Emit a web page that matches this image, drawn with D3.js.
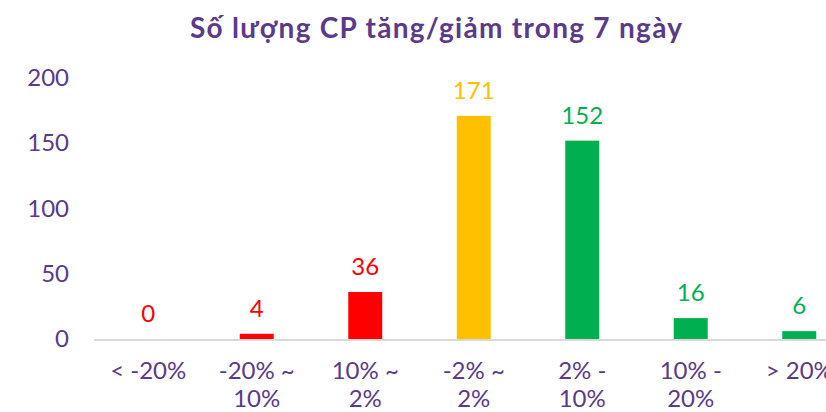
<!DOCTYPE html>
<html>
<head>
<meta charset="utf-8">
<script src="https://cdn.jsdelivr.net/npm/d3@7"></script>
<style>
  body { margin: 0; background: #fff; }
  text { font-family: Lato, 'Open Sans', sans-serif; }
</style>
</head>
<body>
<div id="chart"></div>
<script>
const title = 'Số lượng CP tăng/giảm trong 7 ngày'
const categories = ['< -20%', '-20% ~ 10%', '10% ~ 2%', '-2% ~ 2%', '2% - 10%', '10% - 20%', '> 20%']
const values = [0, 4, 36, 171, 152, 16, 6]
const barColors = ['#ff0000', '#ff0000', '#ff0000', '#ffc000', '#00b050', '#00b050', '#00b050']
const yTicks = [0, 50, 100, 150, 200]

const width = 826
const height = 412
const purple = '#5a3a8a'
const fontSize = '24px'

const svg = d3.select('#chart').append('svg')
  .attr('width', width)
  .attr('height', height)

const x = d3.scaleBand()
  .domain(categories)
  .range([94, 853.5])
  .paddingInner(0.687)
  .paddingOuter(0.3435)

const y = d3.scaleLinear()
  .domain([0, 200])
  .range([339, 78])

// Title
svg.append('text')
  .attr('x', 436)
  .attr('y', 38)
  .attr('text-anchor', 'middle')
  .attr('textLength', 492)
  .attr('lengthAdjust', 'spacing')
  .style('font-size', '28px')
  .style('font-weight', 'bold')
  .style('fill', purple)
  .text(title)

// Y axis labels only
const yAxis = d3.axisLeft(y).tickValues(yTicks).tickSize(0).tickPadding(0)
svg.append('g')
  .attr('transform', 'translate(69,0)')
  .call(yAxis)
  .call(g => g.select('.domain').remove())
  .call(g => g.selectAll('text')
    .style('font-size', fontSize)
    .style('font-family', 'Lato, sans-serif')
    .style('fill', purple))

// Bars
svg.selectAll('rect.bar')
  .data(values)
  .enter().append('rect')
  .attr('class', 'bar')
  .attr('x', (d, i) => x(categories[i]))
  .attr('y', d => y(d))
  .attr('width', x.bandwidth())
  .attr('height', d => y(0) - y(d))
  .attr('fill', (d, i) => barColors[i])

// Baseline
svg.append('line')
  .attr('x1', 94)
  .attr('x2', width)
  .attr('y1', y(0) + 1)
  .attr('y2', y(0) + 1)
  .attr('stroke', '#d9d9d9')
  .attr('stroke-width', 2)

// Value labels
svg.selectAll('text.val')
  .data(values)
  .enter().append('text')
  .attr('class', 'val')
  .attr('x', (d, i) => x(categories[i]) + x.bandwidth() / 2)
  .attr('y', d => y(d) - 17)
  .attr('text-anchor', 'middle')
  .style('font-size', fontSize)
  .style('fill', (d, i) => barColors[i])
  .text(d => d)

// Category labels, wrapped after the separator
const catLabel = svg.selectAll('text.cat')
  .data(categories)
  .enter().append('text')
  .attr('class', 'cat')
  .attr('text-anchor', 'middle')
  .style('font-size', fontSize)
  .style('fill', purple)

catLabel.each(function (d) {
  const m = d.match(/^(.*? [~-]) (.*)$/)
  const lines = m ? [m[1], m[2]] : [d]
  const cx = x(d) + x.bandwidth() / 2
  d3.select(this).selectAll('tspan')
    .data(lines)
    .enter().append('tspan')
    .attr('x', cx)
    .attr('y', (l, i) => 379 + i * 28)
    .text(l => l)
})
</script>
</body>
</html>
